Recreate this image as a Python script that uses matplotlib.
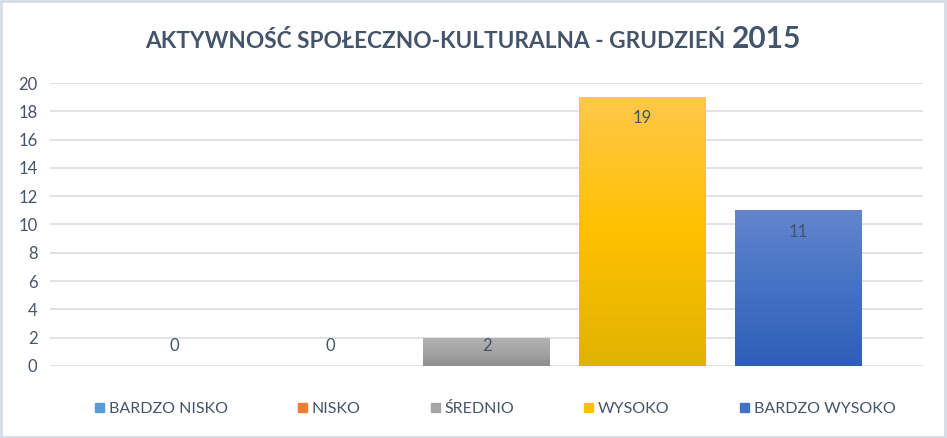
import matplotlib
matplotlib.use('Agg')
import matplotlib.pyplot as plt
from matplotlib.patches import Rectangle
from matplotlib.colors import LinearSegmentedColormap
import numpy as np

categories = ['BARDZO NISKO', 'NISKO', 'ŚREDNIO', 'WYSOKO', 'BARDZO WYSOKO']
values = [0, 0, 2, 19, 11]
legend_colors = ['#5b9bd5', '#ed7d31', '#a5a5a5', '#ffc000', '#4472c4']
# gradient stops (top, middle, bottom) for each bar
gradients = [
    ['#7fb1e0', '#5b9bd5', '#4a88c4'],
    ['#f29a5e', '#ed7d31', '#d86b22'],
    ['#b3b3b3', '#a5a5a5', '#8e8e8e'],
    ['#ffc84a', '#ffc000', '#e0b300'],
    ['#6485cd', '#4472c4', '#2e5eb8'],
]
text_color = '#44546a'
grid_color = '#d9dde3'

plt.rcParams['font.family'] = ['Lato', 'DejaVu Sans']

fig = plt.figure(figsize=(9.47, 4.38), dpi=100)
ax = fig.add_axes([0.0528, 0.1644, 0.9219, 0.6461])

x = np.arange(len(categories))
bars = ax.bar(x, values, width=0.81, color='none', zorder=3)

for b, stops in zip(bars, gradients):
    h = b.get_height()
    if h <= 0:
        continue
    cmap = LinearSegmentedColormap.from_list('g', stops[::-1])
    grad = np.linspace(0, 1, 256).reshape(-1, 1)
    im = ax.imshow(grad, cmap=cmap, origin='lower', aspect='auto',
                   extent=[b.get_x(), b.get_x() + b.get_width(), 0, h], zorder=3)
    im.set_clip_path(b)

ax.set_xlim(-0.80, len(categories) - 0.20)
ax.set_ylim(0, 20)

for xi, v in zip(x, values):
    ax.text(xi, max(v - 1.5, 1.4), str(v), ha='center', va='center',
            fontsize=12, color=text_color, zorder=4)

ax.set_yticks(np.arange(0, 21, 2))
ax.set_xticks([])
ax.yaxis.grid(True, color=grid_color, lw=1.2, zorder=0)
ax.tick_params(axis='y', length=0, pad=9, labelsize=12, labelcolor=text_color)
for s in ax.spines.values():
    s.set_visible(False)

handles = [Rectangle((0, 0), 1, 1, color=c) for c in legend_colors]
fig.legend(handles, categories, loc='center', bbox_to_anchor=(0.523, 0.066),
           ncol=5, frameon=False, handlelength=0.55, handleheight=0.55,
           handletextpad=0.3, columnspacing=4.4, fontsize=11.5,
           labelcolor=text_color)

fig.text(0.153, 0.906, 'AKTYWNOŚĆ SPOŁECZNO-KULTURALNA - GRUDZIEŃ ', ha='left',
         va='center', fontsize=16.3, fontweight='bold', color=text_color)
fig.text(0.773, 0.91, '2015', ha='left', va='center', fontsize=21.5,
         fontweight='bold', color=text_color)

fig.patches.append(Rectangle((0.001, 0.002), 0.997, 0.995, transform=fig.transFigure,
                             fill=False, edgecolor='#d6dce5', lw=2))

fig.savefig('out.png', dpi=100)
